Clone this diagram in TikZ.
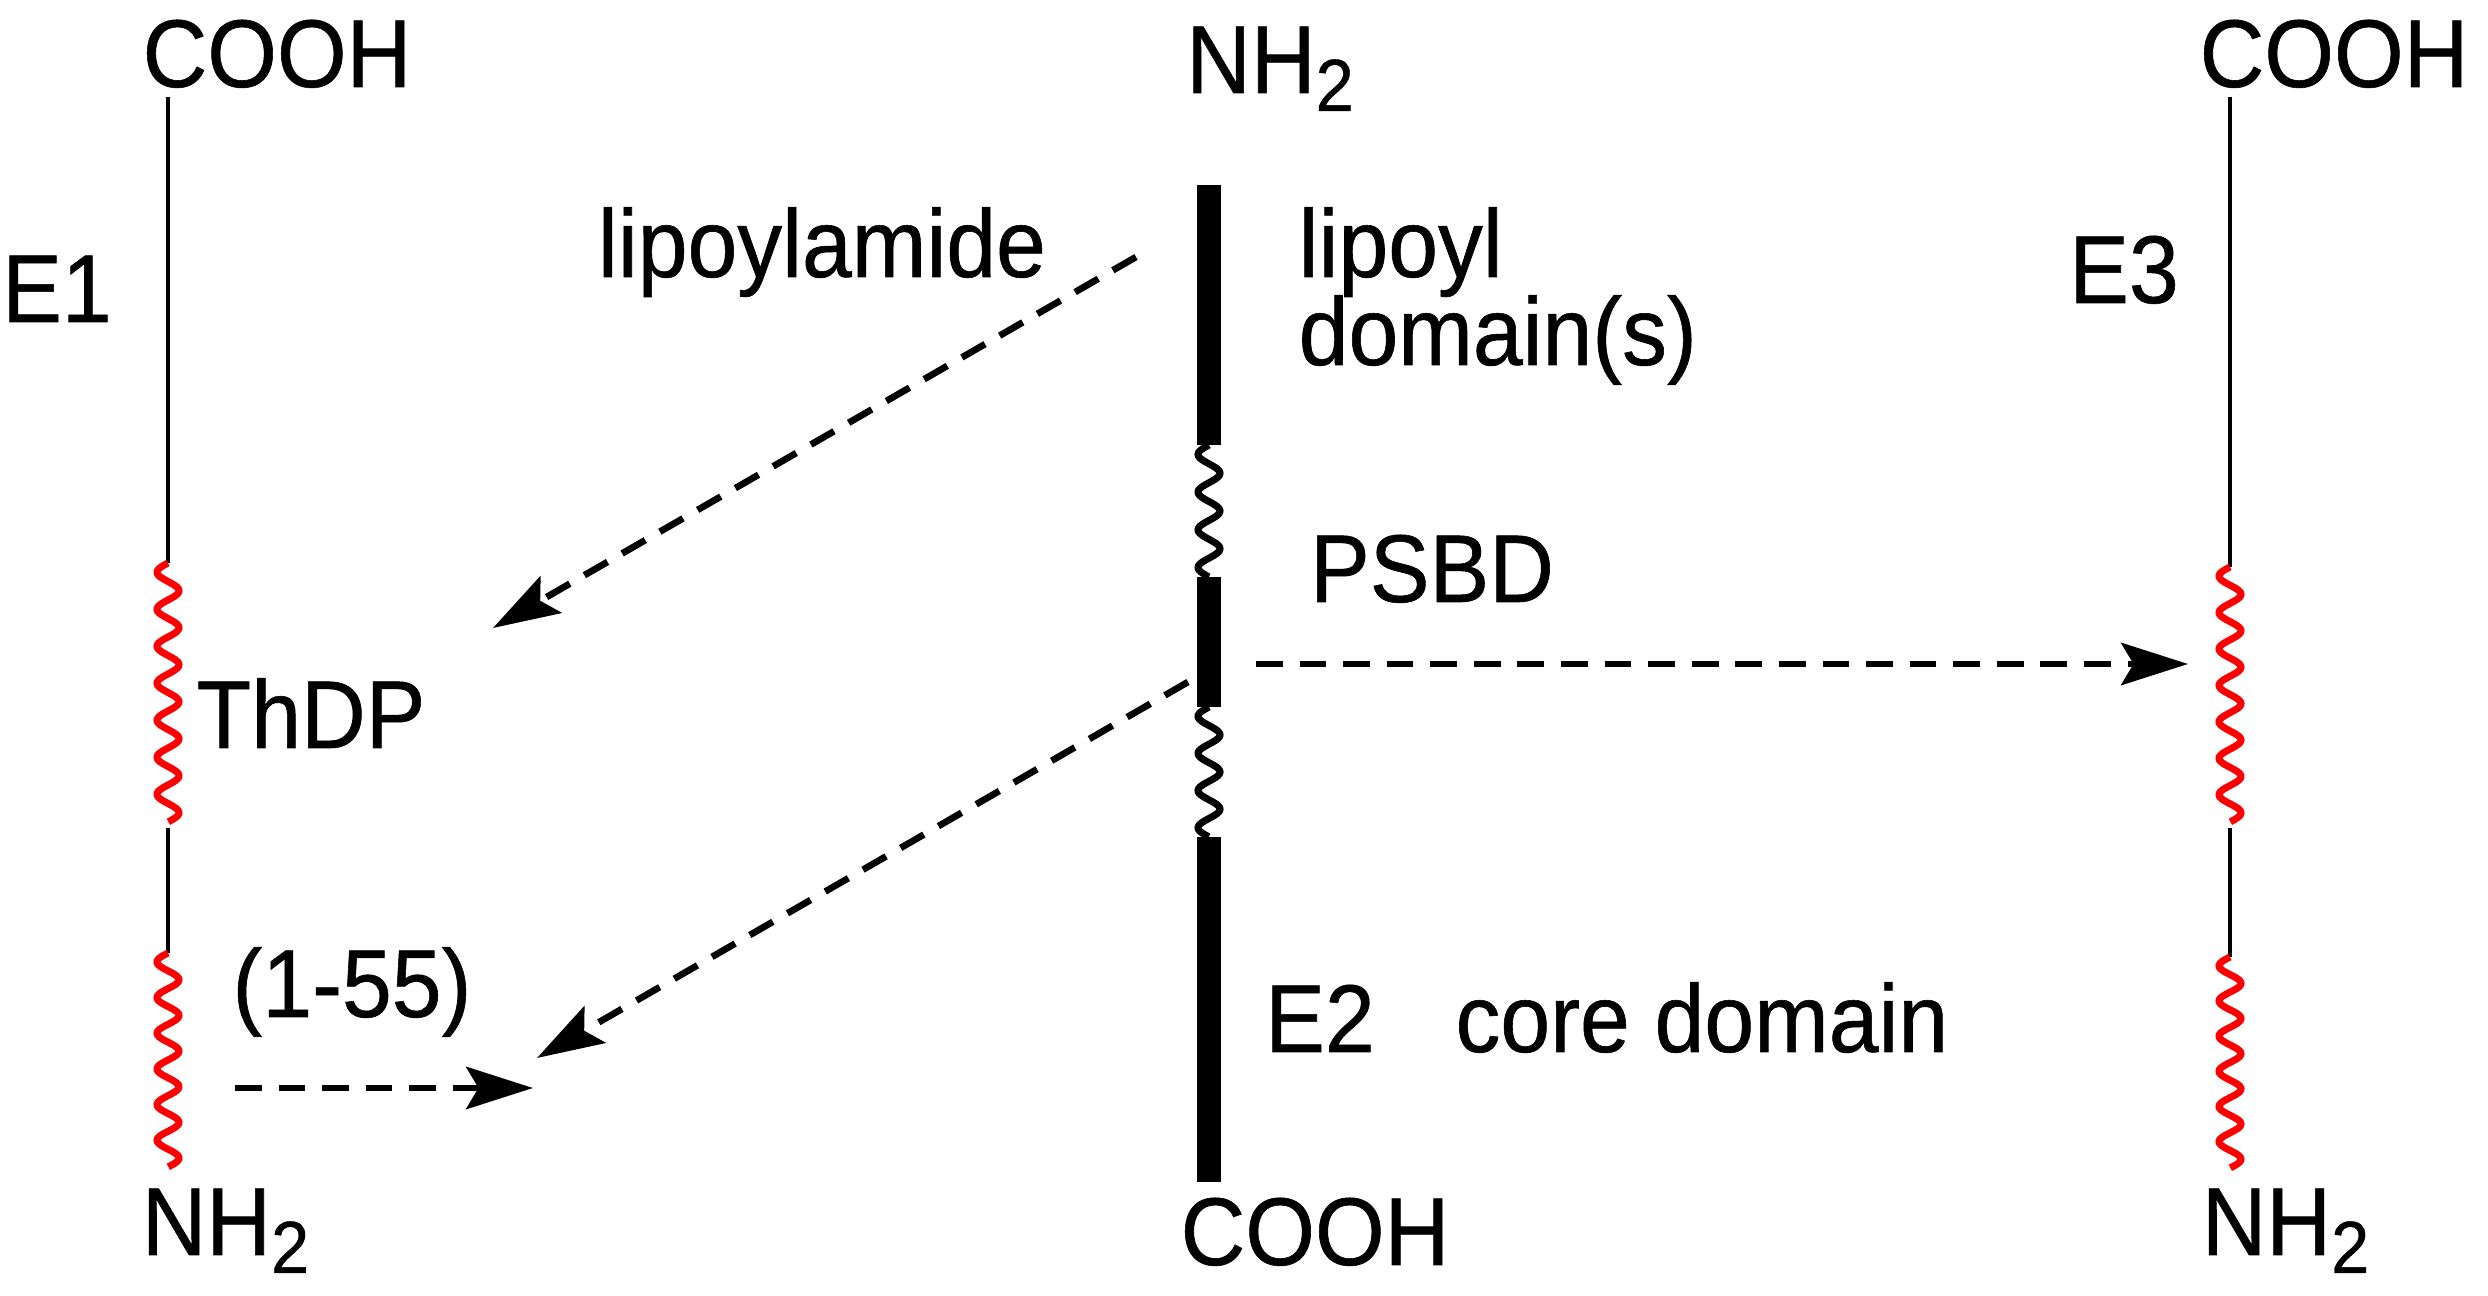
\documentclass[tikz,border=0pt]{standalone}
\usepackage{fontspec}
\setmainfont{Liberation Sans}[FakeStretch=0.93, FakeBold=0.6]
\usetikzlibrary{arrows.meta}
\tikzset{
  lbl/.style={inner sep=0pt, anchor=base, font=\fontsize{27.4}{30}\selectfont},
  chain/.style={line width=1.4pt},
  core/.style={line width=6.8pt},
  redwave/.style={red, line width=2pt},
  blkwave/.style={black, line width=2pt},
  darr/.style={-{Stealth[length=19pt, width=12pt, inset=3.5pt]}, line width=1.9pt, dash pattern=on 7.6pt off 4.8pt},
}
\newcommand{\lowtwo}{\raisebox{-5.1pt}{\fontsize{21}{21}\selectfont 2}}
% wavy segment: style, x, y from, y to, periods
\newcommand{\wavy}[5]{\draw[#1] plot[domain=0:1, samples=240, smooth] ({#2-11*sin(360*#5*\x)}, {#3+(#4-#3)*\x});}

\begin{document}
\begin{tikzpicture}[x=0.1mm, y=-0.1mm]
\useasboundingbox (0,0) rectangle (2488,1296);
% labels
\node[lbl] (e1c) at (277,87) {COOH};
\node[lbl] (e3c) at (2334,87) {COOH};
\node[lbl] (e2n) at (1270,93) {NH\lowtwo};
\node[lbl] (e1lab) at (57,322) {E1};
\node[lbl] (e3lab) at (2124,303) {E3};
\node[lbl] (lipam) at (822,277) {lipoylamide};
\node[lbl, anchor=base west] (lipd1) at (1298,277) {lipoyl};
\node[lbl, anchor=base west] (lipd2) at (1298,365) {domain(s)};
\node[lbl] (psbd) at (1432,602) {PSBD};
\node[lbl] (thdp) at (311,748) {ThDP};
\node[lbl] (res) at (352,1017) {(1-55)};
\node[lbl] (e2lab) at (1320,1052) {E2};
\node[lbl] (cored) at (1702,1052) {core domain};
\node[lbl, anchor=base west] (e1n) at (141,1255) {NH\lowtwo};
\node[lbl] (e2c) at (1315,1265) {COOH};
\node[lbl, anchor=base west] (e3n) at (2201,1255) {NH\lowtwo};
% E1 chain
\draw[chain] (168,97) -- (168,563);
\wavy{redwave}{168}{563}{822}{7}
\draw[chain] (168,828) -- (168,953);
\wavy{redwave}{168}{953}{1167}{6}
% E3 chain
\draw[chain] (2230,97) -- (2230,567);
\wavy{redwave}{2230}{567}{822}{7}
\draw[chain] (2230,828) -- (2230,957);
\wavy{redwave}{2230}{957}{1168}{6}
% E2 chain
\draw[core] (1209,185) -- (1209,445);
\wavy{blkwave}{1209}{445}{577}{3.5}
\draw[core] (1209,577) -- (1209,707);
\wavy{blkwave}{1209}{707}{837}{3.5}
\draw[core] (1209,837) -- (1209,1182);
% transfers
\coordinate (lipS) at (1136,257);
\coordinate (lipE) at (493,628);
\coordinate (psS) at (1256,664);
\coordinate (psE) at (2188,664);
\coordinate (coreS) at (1188,682);
\coordinate (coreE) at (537,1058);
\coordinate (resS) at (235,1088);
\coordinate (resE) at (533,1088);
\draw[darr] (lipS) -- (lipE);
\draw[darr] (psS) -- (psE);
\draw[darr] (coreS) -- (coreE);
\draw[darr] (resS) -- (resE);
\end{tikzpicture}
\end{document}
